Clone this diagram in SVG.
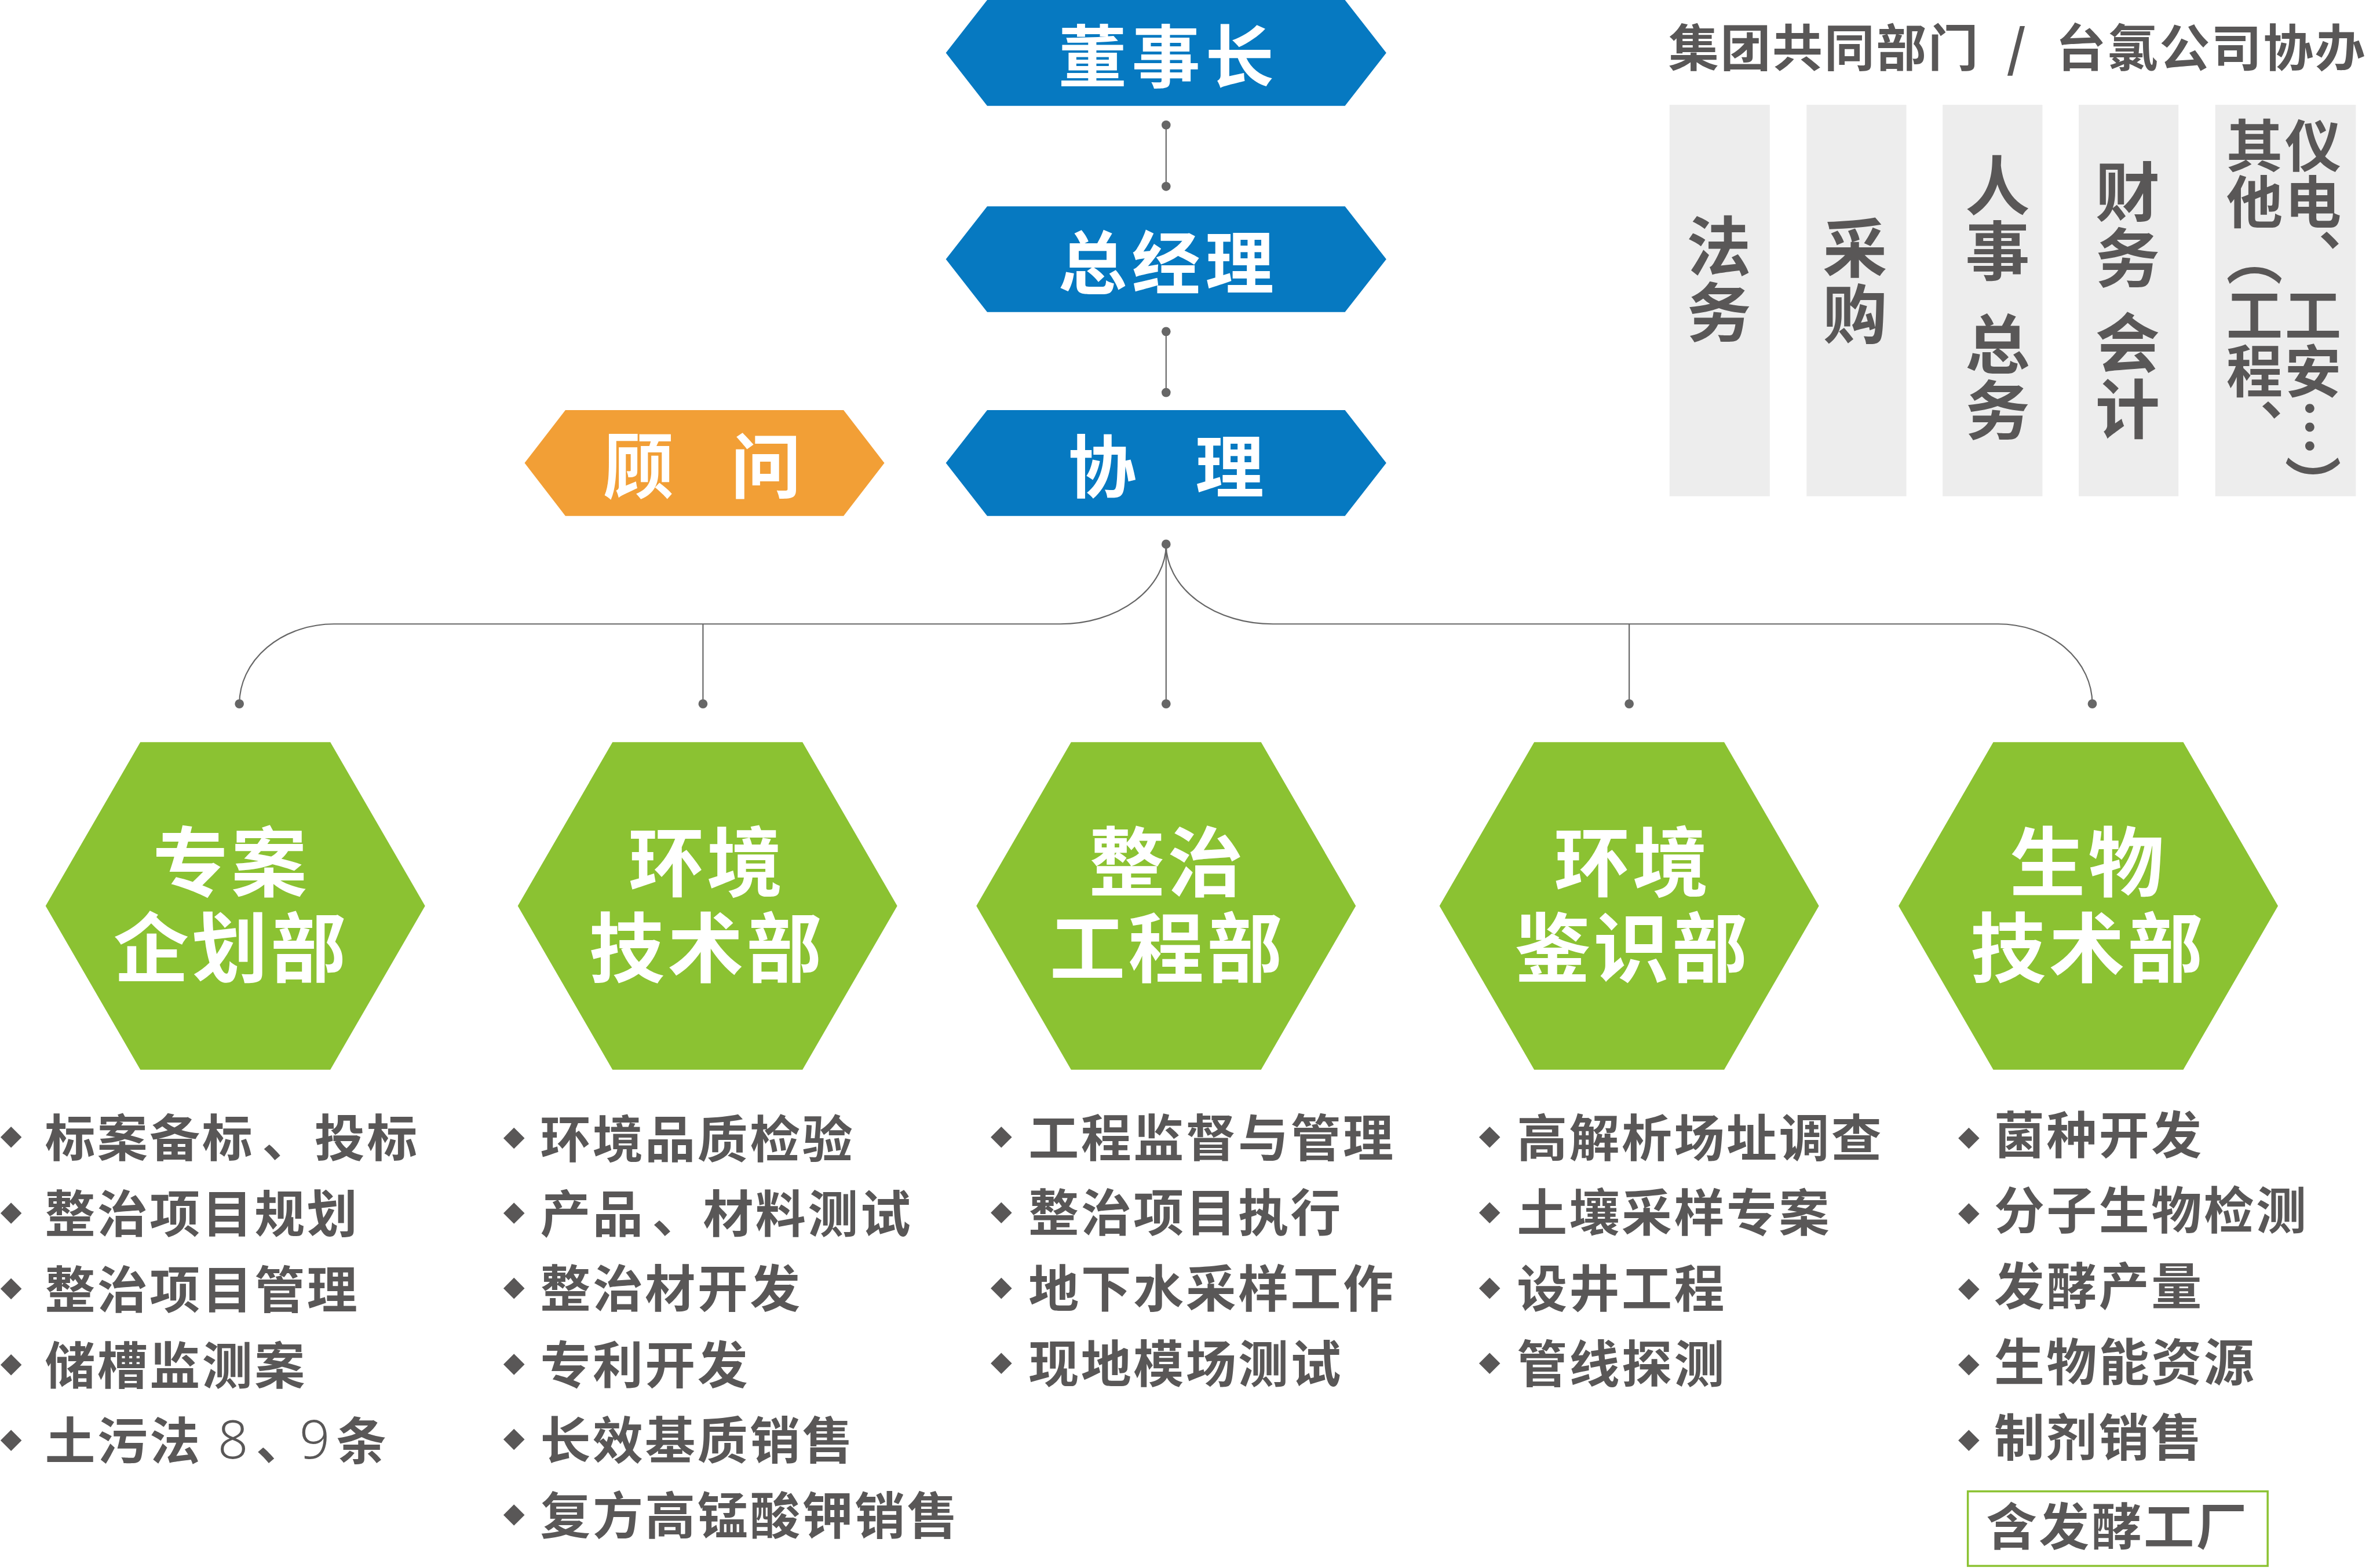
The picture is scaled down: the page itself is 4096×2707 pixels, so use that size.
<svg xmlns="http://www.w3.org/2000/svg" width="4096" height="2707" viewBox="0 0 4096 2707">
<defs>
<style>
.cjk{font-family:"Noto Sans CJK SC","Noto Sans CJK TC",sans-serif;font-weight:700}
.wt{fill:#ffffff}
.gt{fill:#595757}
.blue{fill:#0679C1}
.orange{fill:#F29F36}
.green{fill:#8BC232}
.col{fill:#EDEDED}
.conn{fill:none;stroke:#666666;stroke-width:2.5}
.dot{fill:#666666}
.vt{writing-mode:vertical-rl}
.mid{text-anchor:middle;dominant-baseline:central}
.lst{font-size:100px;letter-spacing:4px;dominant-baseline:central}
.light{font-family:"Noto Sans","Liberation Sans",sans-serif;font-weight:300;font-size:106px}
</style>
<polygon id="hexB" points="-437,0 -355,-105 355,-105 437,0 355,105 -355,105"/>
<polygon id="hexO" points="-357,0 -276,-105 276,-105 357,0 276,105 -276,105"/>
<polygon id="hexG" points="-376.5,0 -188.5,-325 188.5,-325 376.5,0 188.5,325 -188.5,325"/>
<polygon id="dia" points="0,-21 21,0 0,21 -21,0"/>
</defs>
<rect width="4096" height="2707" fill="#ffffff"/>
<g transform="scale(0.86982)">

<g id="connectors">
<line class="conn" x1="2314" y1="248" x2="2314" y2="370"/>
<line class="conn" x1="2314" y1="658" x2="2314" y2="779"/>
<line class="conn" x1="2314" y1="1080" x2="2314" y2="1397"/>
<path class="conn" d="M2314,1080 A210,158 0 0 1 2104,1238.5 H663 A188,158.5 0 0 0 475,1397"/>
<path class="conn" d="M2314,1080 A212,158 0 0 0 2526,1238.5 H3965 A187,158.5 0 0 1 4152,1397"/>
<line class="conn" x1="1395" y1="1238.5" x2="1395" y2="1397"/>
<line class="conn" x1="3233" y1="1238.5" x2="3233" y2="1397"/>
<circle class="dot" cx="2314" cy="248" r="9"/>
<circle class="dot" cx="2314" cy="370" r="9"/>
<circle class="dot" cx="2314" cy="658" r="9"/>
<circle class="dot" cx="2314" cy="779" r="9"/>
<circle class="dot" cx="2314" cy="1080" r="9"/>
<circle class="dot" cx="475" cy="1397" r="9"/>
<circle class="dot" cx="1395" cy="1397" r="9"/>
<circle class="dot" cx="2314" cy="1397" r="9"/>
<circle class="dot" cx="3233" cy="1397" r="9"/>
<circle class="dot" cx="4152" cy="1397" r="9"/>
</g>

<g id="chairman">
<use href="#hexB" class="blue" x="2314" y="105"/>
<text class="cjk wt mid" x="2319" y="104" font-size="136" letter-spacing="10">董事长</text>
</g>
<g id="general-manager">
<use href="#hexB" class="blue" x="2314" y="514.5"/>
<text class="cjk wt mid" x="2319" y="513" font-size="136" letter-spacing="10">总经理</text>
</g>
<g id="assistant-manager">
<use href="#hexB" class="blue" x="2314" y="919"/>
<text class="cjk wt mid" y="918" font-size="136"><tspan x="2187">协</tspan><tspan x="2440">理</tspan></text>
</g>
<g id="advisor">
<use href="#hexO" class="orange" x="1398" y="919"/>
<text class="cjk wt mid" y="916" font-size="140"><tspan x="1267">顾</tspan><tspan x="1520">问</tspan></text>
</g>

<g id="shared-departments">
<text class="cjk gt" x="3311" y="88" font-size="100" letter-spacing="3" dominant-baseline="central"><tspan>集团共同部门</tspan><tspan x="4003" text-anchor="middle">/</tspan><tspan x="4079">台氯公司协办</tspan></text>
<rect class="col" x="3313" y="208" width="199" height="777"/>
<rect class="col" x="3585" y="208" width="198" height="777"/>
<rect class="col" x="3855" y="208" width="198" height="777"/>
<rect class="col" x="4125" y="208" width="198" height="777"/>
<rect class="col" x="4396" y="208" width="279" height="777"/>
<text class="cjk gt vt" x="3411" y="424" font-size="128" letter-spacing="3">法务</text>
<text class="cjk gt vt" x="3681" y="428" font-size="128" letter-spacing="3">采购</text>
<text class="cjk gt vt" x="3964" font-size="128" letter-spacing="3"><tspan y="303">人事</tspan><tspan y="619">总务</tspan></text>
<text class="cjk gt vt" x="4222" font-size="128" letter-spacing="3"><tspan y="316">财务</tspan><tspan y="616">会计</tspan></text>
<text class="cjk gt vt" x="4474" y="232" font-size="112">其他（工程、</text>
<text class="cjk gt vt" x="4590" y="232" font-size="112">仪电、工安…）</text>
</g>

<g id="dept-planning">
<use href="#hexG" class="green" x="467" y="1798"/>
<text class="cjk wt mid" font-size="150" letter-spacing="6"><tspan x="459" y="1702">专案</tspan><tspan x="459" y="1872">企划部</tspan></text>
<use href="#dia" class="gt" x="22" y="2257"/>
<use href="#dia" class="gt" x="22" y="2408"/>
<use href="#dia" class="gt" x="22" y="2558"/>
<use href="#dia" class="gt" x="22" y="2709"/>
<use href="#dia" class="gt" x="22" y="2859"/>
<text class="cjk gt lst" x="89" y="2252"><tspan>标案备标</tspan><tspan x="520">、</tspan><tspan x="624">投标</tspan></text>
<text class="cjk gt lst" x="89" y="2403">整治项目规划</text>
<text class="cjk gt lst" x="89" y="2553">整治项目管理</text>
<text class="cjk gt lst" x="89" y="2704">储槽监测案</text>
<text class="cjk gt lst" x="89" y="2854"><tspan>土污法</tspan><tspan x="432" class="light">8</tspan><tspan x="508">、</tspan><tspan x="594" class="light">9</tspan><tspan x="667">条</tspan></text>
</g>

<g id="dept-env-tech">
<use href="#hexG" class="green" x="1404" y="1798"/>
<text class="cjk wt mid" font-size="150" letter-spacing="6"><tspan x="1403" y="1702">环境</tspan><tspan x="1403" y="1872">技术部</tspan></text>
<use href="#dia" class="gt" x="1020" y="2259"/>
<use href="#dia" class="gt" x="1020" y="2408"/>
<use href="#dia" class="gt" x="1020" y="2557"/>
<use href="#dia" class="gt" x="1020" y="2708"/>
<use href="#dia" class="gt" x="1020" y="2857"/>
<use href="#dia" class="gt" x="1020" y="3007"/>
<text class="cjk gt lst" x="1072" y="2254">环境品质检验</text>
<text class="cjk gt lst" x="1072" y="2403"><tspan>产品</tspan><tspan x="1294">、</tspan><tspan x="1395">材料测试</tspan></text>
<text class="cjk gt lst" x="1072" y="2551">整治材开发</text>
<text class="cjk gt lst" x="1072" y="2703">专利开发</text>
<text class="cjk gt lst" x="1072" y="2852">长效基质销售</text>
<text class="cjk gt lst" x="1072" y="3002">复方高锰酸钾销售</text>
</g>

<g id="dept-remediation">
<use href="#hexG" class="green" x="2314" y="1798"/>
<text class="cjk wt mid" font-size="150" letter-spacing="6"><tspan x="2317" y="1702">整治</tspan><tspan x="2317" y="1872">工程部</tspan></text>
<use href="#dia" class="gt" x="1987" y="2257"/>
<use href="#dia" class="gt" x="1987" y="2407"/>
<use href="#dia" class="gt" x="1987" y="2557"/>
<use href="#dia" class="gt" x="1987" y="2706"/>
<text class="cjk gt lst" x="2041" y="2252">工程监督与管理</text>
<text class="cjk gt lst" x="2041" y="2401">整治项目执行</text>
<text class="cjk gt lst" x="2041" y="2551">地下水采样工作</text>
<text class="cjk gt lst" x="2041" y="2700">现地模场测试</text>
</g>

<g id="dept-env-forensics">
<use href="#hexG" class="green" x="3233" y="1798"/>
<text class="cjk wt mid" font-size="150" letter-spacing="6"><tspan x="3240" y="1702">环境</tspan><tspan x="3240" y="1872">鉴识部</tspan></text>
<use href="#dia" class="gt" x="2956" y="2257"/>
<use href="#dia" class="gt" x="2956" y="2407"/>
<use href="#dia" class="gt" x="2956" y="2557"/>
<use href="#dia" class="gt" x="2956" y="2706"/>
<text class="cjk gt lst" x="3010" y="2252">高解析场址调查</text>
<text class="cjk gt lst" x="3010" y="2401">土壤采样专案</text>
<text class="cjk gt lst" x="3010" y="2551">设井工程</text>
<text class="cjk gt lst" x="3010" y="2700">管线探测</text>
</g>

<g id="dept-biotech">
<use href="#hexG" class="green" x="4144" y="1798"/>
<text class="cjk wt mid" font-size="150" letter-spacing="6"><tspan x="4144" y="1702">生物</tspan><tspan x="4144" y="1872">技术部</tspan></text>
<use href="#dia" class="gt" x="3907" y="2259"/>
<use href="#dia" class="gt" x="3907" y="2409"/>
<use href="#dia" class="gt" x="3907" y="2559"/>
<use href="#dia" class="gt" x="3907" y="2709"/>
<use href="#dia" class="gt" x="3907" y="2859"/>
<text class="cjk gt lst" x="3957" y="2246">菌种开发</text>
<text class="cjk gt lst" x="3957" y="2396">分子生物检测</text>
<text class="cjk gt lst" x="3957" y="2547">发酵产量</text>
<text class="cjk gt lst" x="3957" y="2697">生物能资源</text>
<text class="cjk gt lst" x="3957" y="2847">制剂销售</text>
<rect x="3905" y="2960" width="595" height="148" fill="none" stroke="#8BC232" stroke-width="4"/>
<text class="cjk gt mid" x="4202" y="3024" font-size="100" letter-spacing="4">含发酵工厂</text>
</g>

</g>
</svg>
